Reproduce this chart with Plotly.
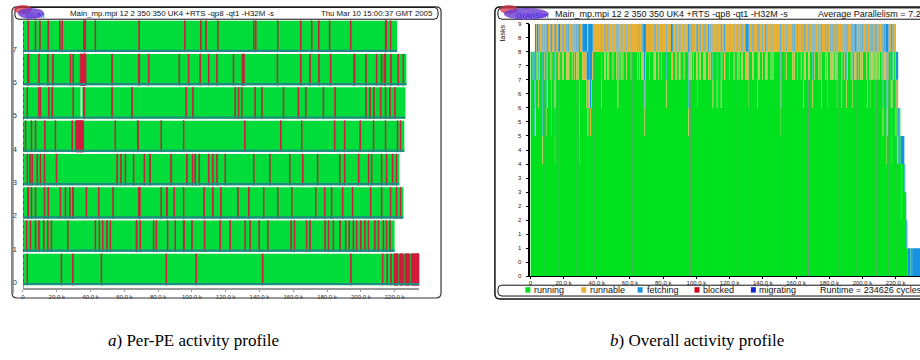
import plotly.graph_objects as go

W, H = 920, 360
RUNTIME_K = 234.626  # total run time in thousands of cycles

# ---- per-PE activity: end of each PE's activity (k cycles) ----
pe_end_k = [234.626, 220.0, 225.2, 222.8, 225.8, 226.4, 227.0, 221.5]

# blocked periods per PE as (start, length), k cycles
pe0_blocked = [(2.4, 0.3), (22.6, 0.3), (29.4, 0.3), (46.3, 0.3), (84.7, 0.3), (102.4, 0.3),
               (141.8, 0.3), (194.0, 0.3), (212.8, 0.3), (215.5, 0.3), (217.7, 0.3),
               (219.7, 2.3), (223.0, 2.2), (226.2, 2.7), (229.9, 4.726)]
pe1_blocked = [(2.0, 0.3), (4.3, 0.3), (7.3, 0.3), (9.3, 0.3), (12.2, 0.3), (14.6, 0.3), (16.7, 0.3),
               (26.4, 0.3), (42.7, 0.3), (45.1, 0.3), (47.1, 0.3), (49.6, 0.3), (51.6, 0.3),
               (67.0, 0.55), (69.3, 0.3), (77.2, 0.3), (78.8, 0.3), (85.5, 0.3), (90.0, 0.3),
               (95.0, 0.55), (99.9, 0.3), (107.4, 0.3), (116.6, 0.3), (122.5, 0.3), (131.4, 0.3),
               (134.3, 0.3), (139.7, 0.3), (144.8, 0.3), (158.6, 0.3), (160.6, 0.3), (167.8, 0.3),
               (169.8, 0.3), (178.7, 0.3), (180.7, 0.3), (183.6, 0.3), (187.5, 0.3), (190.9, 0.3),
               (193.0, 0.3), (195.4, 0.3), (197.4, 0.25), (199.9, 0.3), (202.3, 0.3), (204.3, 0.3),
               (208.2, 0.3), (210.2, 0.3), (213.2, 0.3), (215.1, 0.3), (217.1, 0.3)]
pe2_blocked = [(2.8, 0.5), (4.9, 0.3), (7.3, 0.3), (12.6, 0.3), (14.8, 0.3), (22.0, 0.3), (25.0, 0.3),
               (27.6, 0.3), (29.4, 0.5), (37.4, 0.3), (44.7, 0.3), (53.2, 0.3), (68.4, 1.0),
               (81.7, 0.3), (85.0, 0.5), (89.4, 0.3), (95.0, 0.3), (107.1, 0.3), (112.3, 0.3),
               (117.0, 0.3), (127.1, 0.3), (133.6, 0.3), (142.4, 0.3), (150.7, 0.3), (159.0, 0.3),
               (173.2, 0.3), (178.5, 0.3), (182.6, 0.3), (189.1, 0.3), (195.0, 0.3), (205.7, 0.3),
               (212.2, 0.3), (217.5, 0.3), (221.0, 0.3), (223.4, 0.3)]
pe3_blocked = [(2.4, 0.3), (4.0, 0.3), (5.3, 0.3), (8.3, 0.3), (10.2, 0.3), (12.6, 0.3), (19.7, 0.3),
               (55.6, 0.3), (57.9, 0.3), (60.5, 0.3), (65.4, 0.3), (71.7, 0.3), (74.9, 0.5),
               (87.5, 0.5), (96.9, 0.3), (100.3, 0.3), (101.8, 0.3), (104.2, 0.3), (109.8, 0.3),
               (112.3, 0.3), (114.7, 0.3), (119.6, 0.3), (136.5, 0.3), (146.0, 0.3), (157.8, 0.3),
               (165.5, 0.3), (174.3, 0.3), (187.4, 0.3), (190.3, 0.3), (198.6, 0.3), (204.5, 0.3),
               (206.3, 0.3), (212.2, 0.3), (215.1, 0.3), (218.7, 0.3), (221.0, 0.3)]
pe4_blocked = [(1.4, 0.3), (4.9, 0.3), (7.3, 0.3), (12.8, 0.3), (19.1, 0.3), (29.0, 0.3), (31.3, 4.5),
               (54.5, 0.3), (67.8, 0.5), (81.7, 0.3), (95.0, 0.3), (131.2, 0.3), (152.5, 0.3),
               (164.9, 0.3), (184.4, 0.3), (190.3, 0.3), (199.5, 0.3), (207.4, 0.3), (214.5, 0.3),
               (221.6, 0.3), (223.4, 0.3)]
pe5_blocked = [(2.4, 0.3), (9.3, 0.3), (10.2, 0.3), (15.2, 0.3), (17.1, 0.5), (29.6, 0.3), (35.9, 0.65),
               (52.6, 0.3), (64.4, 0.3), (96.5, 0.3), (100.5, 0.3), (125.5, 0.3), (127.5, 0.3),
               (129.4, 0.3), (137.3, 0.3), (141.3, 0.3), (154.1, 0.3), (162.9, 0.3), (167.3, 0.3),
               (177.7, 0.3), (184.6, 0.3), (202.9, 0.3), (205.3, 0.3), (207.6, 0.3), (211.6, 0.3),
               (214.5, 0.3), (217.1, 0.3), (220.0, 0.3)]
pe6_blocked = [(2.8, 0.75), (9.3, 0.3), (14.6, 0.3), (17.6, 0.3), (28.0, 0.3), (29.6, 0.3), (33.9, 3.4),
               (52.6, 0.3), (68.4, 0.65), (74.3, 0.3), (92.4, 0.3), (97.9, 0.3), (104.8, 0.3),
               (109.8, 0.3), (114.7, 0.3), (124.5, 0.3), (129.8, 1.2), (150.5, 0.3), (164.3, 0.3),
               (169.8, 0.3), (175.1, 0.3), (182.0, 0.3), (195.8, 0.65), (202.9, 0.3), (209.2, 0.3),
               (212.2, 0.3), (213.8, 0.85), (217.7, 0.3), (222.0, 0.3), (225.0, 0.3)]
pe7_blocked = [(3.0, 0.3), (7.3, 0.3), (9.9, 0.3), (14.8, 0.3), (21.7, 0.3), (23.1, 0.3), (35.9, 1.2),
               (42.7, 0.3), (68.6, 0.3), (95.7, 0.3), (105.2, 0.3), (108.2, 0.3), (115.2, 0.3),
               (136.5, 0.3), (137.7, 0.3), (150.7, 0.3), (164.3, 0.3), (170.8, 0.3), (175.0, 0.3),
               (181.4, 0.3), (193.9, 0.3), (214.5, 0.75), (217.5, 0.3)]
# idle periods (no task on the PE)
pe5_idle = [(34.4, 0.4)]

# extra runnable tasks over time: (start, end, count)
runnable_spans = [(2.7, 221.5, 1)]

# times where the overall profile's running polygon is split
segment_edges_k = [9.0, 17.4, 28.2, 39.0, 61.2, 96.6, 123.6, 132.0, 152.4, 167.4,
                   186.0, 196.8, 208.2, 216.0, 220.0]

x_tick_k = [0, 20, 40, 60, 80, 100, 120, 140, 160, 180, 200, 220]
x_tick_text = ["0"] + [f"{v:.1f} k" for v in x_tick_k[1:]]
task_ticks = [i * 0.5 for i in range(19)]
task_tick_text = [str(int(v)) for v in task_ticks]

legend_states = ["running", "runnable", "fetching", "blocked", "migrating"]
state_colors = ["#00e21e", "#e6b135", "#1592e0", "#d0001c", "#1428d8"]

title_text = "Main_mp.mpi 12 2 350 350 UK4 +RTS -qp8 -qt1 -H32M -s"
date_text = "Thu Mar 10 15:00:37 GMT 2005"
avg_text = "Average Parallelism = 7.2"
runtime_text = "Runtime = 234626 cycles"

PE_GREEN = "#00dc3a"
PE_RED = "#d11a3c"
PE_TEAL = "#1d8a86"

blocked_by_pe = [pe0_blocked, pe1_blocked, pe2_blocked, pe3_blocked,
                 pe4_blocked, pe5_blocked, pe6_blocked, pe7_blocked]
idle_by_pe = [[], [], [], [], [], pe5_idle, [], []]
N_PE = len(pe_end_k)


def px(x):
    return x / W


def py(y):
    return 1 - y / H


# ---- overall activity profile, aggregated from the per-PE periods ----
edges = {0.0, RUNTIME_K}
for pe in range(N_PE):
    edges.add(pe_end_k[pe])
    for s, l in blocked_by_pe[pe] + idle_by_pe[pe]:
        edges.add(s)
        edges.add(min(s + l, pe_end_k[pe]))
for s, e, _ in runnable_spans:
    edges.add(s)
    edges.add(e)
edges = sorted(edges)


def state_at(t):
    run = fetch = 0
    for pe in range(N_PE):
        if t >= pe_end_k[pe]:
            continue
        if any(s <= t < s + l for s, l in blocked_by_pe[pe]):
            fetch += 1
        elif any(s <= t < s + l for s, l in idle_by_pe[pe]):
            pass
        else:
            run += 1
    rbl = sum(c for s, e, c in runnable_spans if s <= t < e)
    return run, rbl, fetch


run_n, rbl_n, fetch_n = [], [], []
for a, b in zip(edges[:-1], edges[1:]):
    r, q, f = state_at((a + b) / 2)
    run_n.append(r)
    rbl_n.append(q)
    fetch_n.append(f)

step_x = edges
run_y = run_n + [run_n[-1]]
rbl_top = [r + q for r, q in zip(run_n, rbl_n)]
rbl_top += [rbl_top[-1]]
fetch_top = [r + q + f for r, q, f in zip(run_n, rbl_n, fetch_n)]
fetch_top += [fetch_top[-1]]

fig = go.Figure()

# ---- left: per-PE bars ----
row_c = [pe + 0.5 for pe in range(N_PE)]
fig.add_trace(go.Bar(orientation="h", y=row_c, x=pe_end_k, base=[0] * N_PE, width=0.94,
                     marker=dict(color=PE_GREEN, line=dict(width=0)),
                     xaxis="x", yaxis="y", showlegend=False, hoverinfo="skip"))
by, bb, bl = [], [], []
for pe in range(N_PE):
    for s, l in blocked_by_pe[pe]:
        by.append(pe + 0.5)
        bb.append(s)
        bl.append(l)
fig.add_trace(go.Bar(orientation="h", y=by, x=bl, base=bb, width=0.94,
                     marker=dict(color=PE_RED, line=dict(width=0.9, color=PE_RED)),
                     xaxis="x", yaxis="y", showlegend=False, hoverinfo="skip"))
iy, ib, il = [], [], []
for pe in range(N_PE):
    for s, l in idle_by_pe[pe]:
        iy.append(pe + 0.5)
        ib.append(s)
        il.append(l)
fig.add_trace(go.Bar(orientation="h", y=iy, x=il, base=ib, width=0.94,
                     marker=dict(color="white", line=dict(width=0.9, color="white")),
                     xaxis="x", yaxis="y", showlegend=False, hoverinfo="skip"))
fig.add_trace(go.Bar(orientation="h", y=[pe + 0.065 for pe in range(N_PE)], x=pe_end_k,
                     base=[0] * N_PE, width=0.065,
                     marker=dict(color=PE_TEAL, line=dict(width=0)),
                     xaxis="x", yaxis="y", showlegend=False, hoverinfo="skip"))

# ---- right: stacked overall profile ----
fig.add_trace(go.Scatter(x=step_x, y=run_y, mode="lines", fill="tozeroy",
                         line=dict(width=0, shape="hv"), fillcolor=state_colors[0],
                         xaxis="x2", yaxis="y2", showlegend=False, hoverinfo="skip"))
fig.add_trace(go.Scatter(x=step_x, y=rbl_top, mode="lines", fill="tonexty",
                         line=dict(width=0, shape="hv"), fillcolor=state_colors[1],
                         xaxis="x2", yaxis="y2", showlegend=False, hoverinfo="skip"))
fig.add_trace(go.Scatter(x=step_x, y=fetch_top, mode="lines", fill="tonexty",
                         line=dict(width=0, shape="hv"), fillcolor=state_colors[2],
                         xaxis="x2", yaxis="y2", showlegend=False, hoverinfo="skip"))
ex, ey = [], []
for t in segment_edges_k:
    r, _, _ = state_at(t)
    ex += [t, t, None]
    ey += [0, r, None]
fig.add_trace(go.Scatter(x=ex, y=ey, mode="lines", line=dict(color="#6f9a78", width=1),
                         xaxis="x2", yaxis="y2", showlegend=False, hoverinfo="skip"))


def rrect(x0, y0, x1, y1, r):
    pts = [("M", [(x0 + r, y0)]), ("L", [(x1 - r, y0)]), ("Q", [(x1, y0), (x1, y0 + r)]),
           ("L", [(x1, y1 - r)]), ("Q", [(x1, y1), (x1 - r, y1)]), ("L", [(x0 + r, y1)]),
           ("Q", [(x0, y1), (x0, y1 - r)]), ("L", [(x0, y0 + r)]), ("Q", [(x0, y0), (x0 + r, y0)])]
    out = ""
    for cmd, ps in pts:
        out += cmd + " " + " ".join(f"{px(a):.5f},{py(b):.5f}" for a, b in ps) + " "
    return out + "Z"


shapes = []


def frame(x0, y0, x1, y1, r, color="#222", width=1, fill=None):
    shapes.append(dict(type="path", path=rrect(x0, y0, x1, y1, r), xref="paper", yref="paper",
                       line=dict(color=color, width=width),
                       fillcolor=fill if fill else "rgba(0,0,0,0)", layer="above"))


# left panel frames
frame(10, 4, 440, 300, 5, color="#333", width=1.2)
shapes.append(dict(type="line", xref="paper", yref="paper", x0=px(10.5), x1=px(10.5),
                   y0=py(12), y1=py(296), line=dict(color="#8a8a8a", width=2.5)))
frame(13, 4.5, 437, 16.5, 4, color="#111", width=1)
shapes.append(dict(type="line", xref="x", yref="paper", x0=0, x1=0, y0=py(290), y1=py(16),
                   line=dict(color="#222", width=1, dash="dot")))

# right panel frames
frame(494, 4, 935, 301, 5, color="#111", width=1.5)
frame(497, 5, 935, 16.5, 4, color="#111", width=1)
frame(497, 287, 935, 298, 4, color="#111", width=1)

# logos
shapes.append(dict(type="circle", xref="paper", yref="paper", x0=px(12), x1=px(30),
                   y0=py(11), y1=py(2), fillcolor="#d8304a", line=dict(width=0), opacity=0.75))
shapes.append(dict(type="circle", xref="paper", yref="paper", x0=px(16), x1=px(42),
                   y0=py(16), y1=py(5), fillcolor="#6a38d0", line=dict(width=0), opacity=0.8))
shapes.append(dict(type="circle", xref="paper", yref="paper", x0=px(499), x1=px(517),
                   y0=py(11), y1=py(2), fillcolor="#d8304a", line=dict(width=0), opacity=0.75))
shapes.append(dict(type="circle", xref="paper", yref="paper", x0=px(503), x1=px(548),
                   y0=py(17), y1=py(5), fillcolor="#6a38d0", line=dict(width=0), opacity=0.8))

# legend swatches
leg_sq_x = [524.5, 580.5, 637, 694, 750.5]
leg_txt_x = [531.5, 587, 644.5, 700.5, 757]
for sx, c in zip(leg_sq_x, state_colors):
    shapes.append(dict(type="rect", xref="paper", yref="paper", x0=px(sx), x1=px(sx + 5),
                       y0=py(294.5), y1=py(289), fillcolor=c, line=dict(width=0)))

SANS = "Liberation Sans, Arial, sans-serif"
ann = []


def text(x, y, s, size, anchor="left", color="#111", family=SANS, angle=0):
    ann.append(dict(x=px(x), y=py(y), xref="paper", yref="paper", text=s, showarrow=False,
                    xanchor=anchor, yanchor="middle", textangle=angle,
                    font=dict(family=family, size=size, color=color)))


text(170, 10.5, title_text, 7.9, anchor="center")
text(434, 10.5, date_text, 7.8, anchor="right")
text(22, 12.5, "GUM", 8, color="#3a2ae8")
text(552, 11, title_text, 9.0)
text(816, 11, avg_text, 9.0)
text(513, 13, "GrAnSim", 8, color="#2f2ae8")
text(502, 30, "tasks", 7, anchor="center", angle=-90)
for s, tx in zip(legend_states, leg_txt_x):
    text(tx, 292, s, 9)
text(818, 292, runtime_text, 9)

SERIF = "Liberation Serif, Times New Roman, serif"
text(192, 343, "<i>a</i>) Per-PE activity profile", 17, anchor="center", color="#000", family=SERIF)
text(697, 343, "<i>b</i>) Overall activity profile", 17, anchor="center", color="#000", family=SERIF)

fig.update_layout(
    width=W, height=H, margin=dict(l=0, r=0, t=0, b=0),
    paper_bgcolor="white", plot_bgcolor="white",
    barmode="overlay", showlegend=False,
    shapes=shapes, annotations=ann,
    xaxis=dict(domain=[px(21), px(418.2)], range=[0, RUNTIME_K], anchor="y",
               showline=True, linecolor="#9a9a9a", linewidth=2, ticks="outside", ticklen=2,
               tickcolor="#9a9a9a", tickvals=x_tick_k, ticktext=x_tick_text,
               tickfont=dict(family=SANS, size=6, color="#333"),
               showgrid=False, zeroline=False, fixedrange=True),
    yaxis=dict(domain=[py(290), py(17)], range=[-0.06, 8.0], anchor="x",
               tickvals=[pe + 0.12 for pe in range(N_PE)], ticktext=[str(pe) for pe in range(N_PE)],
               ticks="", showline=False, ticklabelstandoff=5,
               tickfont=dict(family=SANS, size=8, color="#333"),
               showgrid=False, zeroline=False, fixedrange=True),
    xaxis2=dict(domain=[px(529.5), 1.0], range=[0, RUNTIME_K], anchor="y2",
                showline=True, linecolor="#000", linewidth=1, ticks="outside", ticklen=2,
                tickcolor="#000", tickvals=x_tick_k, ticktext=x_tick_text, ticklabelstandoff=-2,
                tickfont=dict(family=SANS, size=6, color="#222"),
                showgrid=False, zeroline=False, fixedrange=True),
    yaxis2=dict(domain=[py(278), py(21)], range=[0, 9], anchor="x2",
                showline=True, linecolor="#000", linewidth=1.5, ticks="outside", ticklen=3,
                tickcolor="#000", tickvals=task_ticks, ticktext=task_tick_text, ticklabelstandoff=3,
                tickfont=dict(family=SANS, size=6, color="#222"),
                showgrid=False, zeroline=False, fixedrange=True),
)

fig.write_html("out.html")
